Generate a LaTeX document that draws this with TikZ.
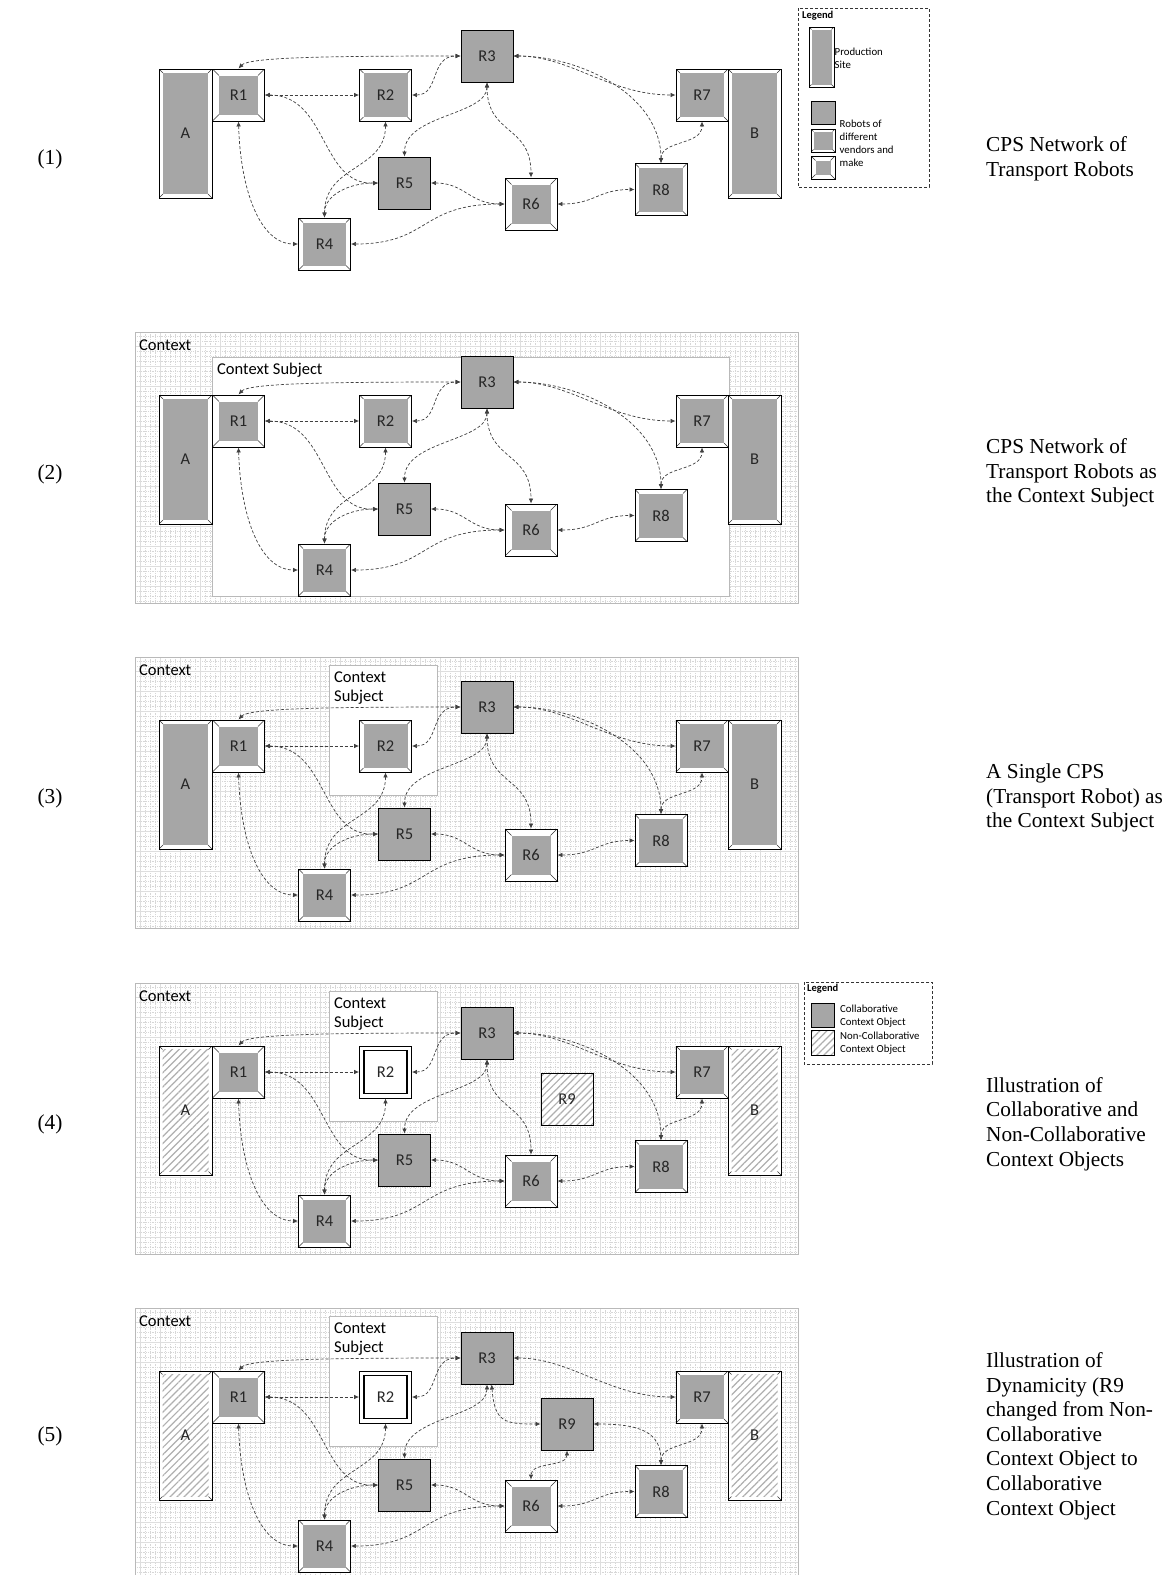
\documentclass[tikz,border=0pt]{standalone}
\usepackage{fontspec}
\setmainfont{Liberation Serif}
\newfontfamily\carl{Carlito}
\usetikzlibrary{arrows.meta,patterns.meta,calc}
\definecolor{gfill}{RGB}{166,166,166}
\definecolor{hatchc}{RGB}{175,175,175}
\definecolor{gridmaj}{RGB}{222,222,222}
\definecolor{gridmin}{RGB}{215,215,215}
\definecolor{framec}{RGB}{185,185,185}
\newcommand\robfont{\carl\fontsize{16.5}{19}\selectfont}
\newcommand\ctxfont{\carl\fontsize{16.5}{19}\selectfont}
\newcommand\legfont{\carl\fontsize{10.8}{13}\selectfont}
\newcommand\legbfont{\carl\bfseries\fontsize{10.5}{13}\selectfont}
\newcommand\sidefont{\fontsize{21.3}{24.6}\selectfont}
\tikzset{
  x=1pt, y=1pt,
  base/.style={rectangle, draw=black, line width=0.9pt, minimum width=52pt, minimum height=52pt, inner sep=0pt, font=\robfont, text=black!85},
  plain/.style={base, fill=gfill},
  bev/.style={base, fill=white, path picture={
    \fill[gfill] ([shift={(#1pt,#1pt)}]path picture bounding box.south west) rectangle ([shift={(-#1pt,-#1pt)}]path picture bounding box.north east);
    \draw[line width=0.45pt, black!80]
      (path picture bounding box.south west) -- ++(#1pt,#1pt)
      (path picture bounding box.south east) -- ++(-#1pt,#1pt)
      (path picture bounding box.north west) -- ++(#1pt,-#1pt)
      (path picture bounding box.north east) -- ++(-#1pt,-#1pt);
  }},
  hbev/.style={base, fill=white, path picture={
    \fill[pattern={Lines[angle=45,distance=5pt,line width=1.2pt]}, pattern color=hatchc] ([shift={(#1pt,#1pt)}]path picture bounding box.south west) rectangle ([shift={(-#1pt,-#1pt)}]path picture bounding box.north east);
    \draw[line width=0.45pt, black!80]
      (path picture bounding box.south west) -- ++(#1pt,#1pt)
      (path picture bounding box.south east) -- ++(-#1pt,#1pt)
      (path picture bounding box.north west) -- ++(#1pt,-#1pt)
      (path picture bounding box.north east) -- ++(-#1pt,-#1pt);
  }},
  wbev/.style={base, fill=white, path picture={
    \draw[line width=1.5pt] ([shift={(#1pt,#1pt)}]path picture bounding box.south west) rectangle ([shift={(-#1pt,-#1pt)}]path picture bounding box.north east);
  }},
  hplain/.style={base, preaction={fill=white}, pattern={Lines[angle=45,distance=5pt,line width=1.2pt]}, pattern color=hatchc},
  link/.style={draw=black!75, line width=0.7pt, dash pattern=on 3pt off 2pt, <->, >={Latex[length=5pt,width=4.5pt]}},
  legbox/.style={draw=black!80, line width=0.8pt, dash pattern=on 3pt off 2pt},
  framebox/.style={draw=framec, line width=0.8pt},
  gridminor/.style={draw=gridmin, line width=0.3pt, dash pattern=on 0.6pt off 1.2pt},
  gridmajor/.style={draw=gridmaj, line width=0.5pt},
  sidetext/.style={anchor=west, align=left, font=\sidefont, inner sep=0pt},
  numtext/.style={font=\sidefont, inner sep=0pt},
}
% context frame with grid
\newcommand\ctxframe[2]{%
\begin{scope}[yshift=-#2pt]
\fill[white] (135,-6) rectangle (798,-277);
\begin{scope}
\clip (135,-6) rectangle (798,-277);
\draw[gridminor, step=5pt] (130,0) grid (800,-280);
\draw[gridmajor, step=20pt] (120,0) grid (800,-280);
\end{scope}
\draw[framebox] (135,-6) rectangle (798,-277);
\node[anchor=west, font=\ctxfont, inner sep=0pt] (#1ctx) at (139,-19) {Context};
\end{scope}}
% small context subject box
\newcommand\subjbox[2]{%
\begin{scope}[yshift=-#2pt]
\draw[framebox, fill=white] (329,-14) rectangle (437,-144);
\node[anchor=west, align=left, font=\ctxfont, inner sep=0pt] (#1subj) at (334,-37) {Context\\Subject};
\end{scope}}
% nodes of a panel
\newcommand\panelnodes[4]{%
\begin{scope}[yshift=-#2pt]
\node[#3, minimum width=53pt, minimum height=129pt] (#1A) at (185.5,-133.5) {A};
\node[bev=6.5] (#1R1) at (238.5,-95) {R1};
\node[#4] (#1R2) at (385.5,-95) {R2};
\node[plain] (#1R3) at (487,-56) {R3};
\node[bev=4.5] (#1R4) at (324.5,-244) {R4};
\node[plain] (#1R5) at (404.5,-183) {R5};
\node[bev=6.5] (#1R6) at (531,-204) {R6};
\node[bev=4] (#1R7) at (702,-95) {R7};
\node[bev=4] (#1R8) at (661,-189.5) {R8};
\node[#3, minimum width=53pt, minimum height=129pt] (#1B) at (754.5,-133.5) {B};
\end{scope}}
% connectors common to all panels
\newcommand\commonedges[1]{%
\draw[link] (#1R1.north) .. controls +(10,11) and +(-140,0) .. (#1R3.west);
\draw[link] (#1R1.east) -- (#1R2.west);
\draw[link] (#1R1.east) .. controls +(63,0) and +(-58,-2) .. (#1R5.west);
\draw[link] (#1R1.south) .. controls +(2,-69) and +(-38,0) .. (#1R4.west);
\draw[link] (#1R2.east) .. controls +(28,0) and +(-31,0) .. (#1R3.west);
\draw[link] (#1R2.south) .. controls +(0,-49) and +(0,53) .. (#1R4.north);
\draw[link] (#1R3.south) .. controls +(0,-33) and +(0,42) .. (#1R5.north);
\draw[link] (#1R3.east) .. controls +(57,0) and +(-66,0) .. (#1R7.west);
\draw[link] (#1R4.north) .. controls +(0,23) and +(-28,0) .. (#1R5.west);
\draw[link] (#1R5.east) .. controls +(34,0) and +(-35,0) .. (#1R6.west);
\draw[link] (#1R4.east) .. controls +(79,0) and +(-85,0) .. (#1R6.west);
\draw[link] (#1R6.east) .. controls +(38,0) and +(-37,0) .. (#1R8.west);
\draw[link] (#1R8.north) .. controls +(0,23) and +(0,-24) .. (#1R7.south);
}
\newcommand\rthreeedges[1]{%
\draw[link] (#1R3.south) .. controls +(0,-53) and +(0,53) .. (#1R6.north);
\draw[link] (#1R3.east) .. controls +(67,0) and +(0,68) .. (#1R8.north);
}
\begin{document}
\begin{tikzpicture}
\useasboundingbox (0,0) rectangle (1169,-1575);
\fill[white] (0,0) rectangle (1169,-1575);

% ---------- Panel 1 ----------
\panelnodes{a}{0}{bev=4}{bev=4}
\commonedges{a}
\rthreeedges{a}
\draw[legbox] (798,-8) rectangle (929,-187);
\node[anchor=west, font=\legbfont, inner sep=0pt] (aleg) at (802,-16) {Legend};
\node[bev=2.5, minimum width=25pt, minimum height=60pt] (alegA) at (821.5,-57) {};
\node[anchor=west, align=left, font=\legfont, inner sep=0pt] (alegAt) at (834.5,-58) {Production\\Site};
\node[plain, minimum width=24pt, minimum height=23pt] (alegR1) at (823,-112.5) {};
\node[bev=2.5, minimum width=24pt, minimum height=23pt] (alegR2) at (823,-140.5) {};
\node[bev=4.5, minimum width=24pt, minimum height=23pt] (alegR3) at (823,-167.5) {};
\node[anchor=west, align=left, font=\legfont, inner sep=0pt] (alegRt) at (839.5,-143) {Robots of\\different\\vendors and\\make};
\node[numtext] (n1) at (50,-159) {(1)};
\node[sidetext] (t1) at (986,-159) {CPS Network of\\Transport Robots};

% ---------- Panel 2 ----------
\ctxframe{b}{326}
\begin{scope}[yshift=-326pt]
\draw[framebox, fill=white] (212,-31) rectangle (729,-270);
\node[anchor=west, font=\ctxfont, inner sep=0pt] (bsubj) at (217,-44) {Context Subject};
\end{scope}
\panelnodes{b}{326}{bev=4}{bev=4}
\commonedges{b}
\rthreeedges{b}
\node[numtext] (n2) at (50,-474) {(2)};
\node[sidetext] (t2) at (986,-473) {CPS Network of\\Transport Robots as\\the Context Subject};

% ---------- Panel 3 ----------
\ctxframe{c}{651}
\subjbox{c}{651}
\panelnodes{c}{651}{bev=4}{bev=4}
\commonedges{c}
\rthreeedges{c}
\node[numtext] (n3) at (50,-798) {(3)};
\node[sidetext] (t3) at (986,-798) {A Single CPS\\(Transport Robot) as\\the Context Subject};

% ---------- Panel 4 ----------
\ctxframe{d}{977}
\subjbox{d}{977}
\panelnodes{d}{977}{hbev=3.5}{wbev=4.5}
\begin{scope}[yshift=-977pt]
\node[hplain] (dR9) at (567,-122) {R9};
\end{scope}
\commonedges{d}
\rthreeedges{d}
\draw[legbox] (804,-982) rectangle (932,-1064);
\node[anchor=west, font=\legbfont, inner sep=0pt] (dleg) at (807,-989) {Legend};
\node[plain, minimum width=23pt, minimum height=24pt] (dlegC) at (822.5,-1015) {};
\node[hplain, minimum width=23pt, minimum height=25pt] (dlegN) at (822.5,-1042.5) {};
\node[anchor=west, align=left, font=\legfont, inner sep=0pt] (dlegCt) at (840,-1016) {Collaborative\\Context Object};
\node[anchor=west, align=left, font=\legfont, inner sep=0pt] (dlegNt) at (840,-1043.5) {Non-Collaborative\\Context Object};
\node[numtext] (n4) at (50,-1124) {(4)};
\node[sidetext] (t4) at (986,-1124) {Illustration of\\Collaborative and\\Non-Collaborative\\Context Objects};

% ---------- Panel 5 ----------
\ctxframe{e}{1302}
\subjbox{e}{1302}
\panelnodes{e}{1302}{hbev=3.5}{wbev=4.5}
\begin{scope}[yshift=-1302pt]
\node[plain] (eR9) at (567,-122) {R9};
\end{scope}
\commonedges{e}
\draw[link] (eR3.-80) .. controls +(3,-38) and +(-36,0) .. (eR9.west);
\draw[link] (eR9.south) .. controls +(0,-17) and +(0,18) .. (eR6.north);
\draw[link] (eR9.east) .. controls +(47,0) and +(0,33) .. (eR8.north);
\node[numtext] (n5) at (50,-1436) {(5)};
\node[sidetext] (t5) at (986,-1436) {Illustration of\\Dynamicity (R9\\changed from Non-\\Collaborative\\Context Object to\\Collaborative\\Context Object};
\end{tikzpicture}
\end{document}
